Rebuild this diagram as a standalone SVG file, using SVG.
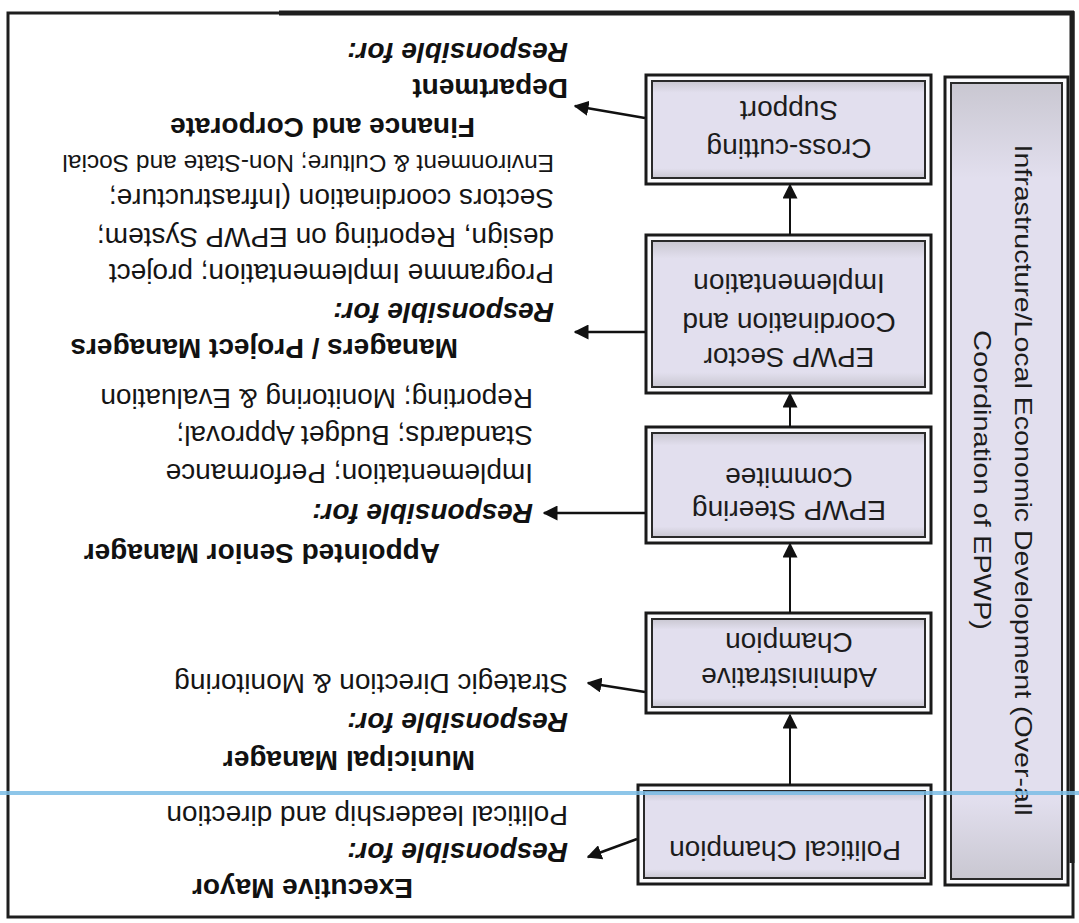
<svg xmlns="http://www.w3.org/2000/svg" width="1079" height="923" viewBox="0 0 1079 923">
<defs>
<style>
.frame{fill:none;stroke:#1e1e1e;stroke-width:3}
.outer{fill:#fbfbfd;stroke:#1a1a1a;stroke-width:3}
.inner{fill:url(#lav);stroke:#2a2a2a;stroke-width:2}
.bt{font-family:"Liberation Sans",Arial,sans-serif;font-size:28px;fill:#1c1c1c;text-anchor:middle}
.bar{font-family:"Liberation Sans",Arial,sans-serif;font-size:24px;fill:#1c1c1c;text-anchor:middle}
.d{font-family:"Liberation Sans",Arial,sans-serif;font-size:28px;fill:#151515}
.h{font-family:"Liberation Sans",Arial,sans-serif;font-size:28px;font-weight:bold;fill:#111}
.r{font-family:"Liberation Sans",Arial,sans-serif;font-size:28px;font-weight:bold;font-style:italic;fill:#111}
.c{stroke:#111;stroke-width:2;fill:none}
.s{stroke:#111;stroke-width:2.5;fill:none}
</style>
<linearGradient id="lav" x1="0" y1="0" x2="0" y2="1">
<stop offset="0" stop-color="#c9c7d1"/>
<stop offset="0.1" stop-color="#e2dfee"/>
<stop offset="0.88" stop-color="#e2dfee"/>
<stop offset="1" stop-color="#c9c7d1"/>
</linearGradient>
<marker id="ah" viewBox="0 0 10 10" refX="9" refY="5" markerWidth="15" markerHeight="15" markerUnits="userSpaceOnUse" orient="auto">
<path d="M0,0 L10,5 L0,10 z" fill="#111"/>
</marker>
</defs>
<rect width="1079" height="923" fill="#ffffff"/>
<g transform="rotate(180 539.5 461.5)">
<rect class="frame" x="6" y="6" width="1065" height="904"/>
<line x1="5" y1="910" x2="800" y2="910" stroke="#1e1e1e" stroke-width="5"/>
<line x1="7" y1="60" x2="7" y2="912" stroke="#1e1e1e" stroke-width="5"/>

<g id="bar">
<rect class="outer" x="11" y="38" width="123" height="808"/>
<rect class="inner" x="17" y="44" width="111" height="796"/>
<text class="bar" transform="translate(64,443) rotate(-90)" textLength="671" lengthAdjust="spacingAndGlyphs">Infrastructure/Local Economic Development (Over-all</text>
<text class="bar" transform="translate(105,443) rotate(-90)" textLength="300" lengthAdjust="spacingAndGlyphs">Coordination of EPWP)</text>
</g>

<g id="political-champion">
<rect class="outer" x="148" y="39" width="293" height="99"/>
<rect class="inner" x="154" y="45" width="281" height="87"/>
<text class="bt" x="294" y="82">Political Champion</text>
</g>

<g id="administrative-champion">
<rect class="outer" x="148" y="210" width="285" height="100"/>
<rect class="inner" x="154" y="216" width="273" height="88"/>
<text class="bt" x="290" y="255">Administrative</text>
<text class="bt" x="290" y="290">Champion</text>
</g>

<g id="steering-committee">
<rect class="outer" x="148" y="380" width="285" height="116"/>
<rect class="inner" x="154" y="386" width="273" height="104"/>
<text class="bt" x="290" y="422">EPWP Steering</text>
<text class="bt" x="290" y="455">Commitee</text>
</g>

<g id="sector-coordination">
<rect class="outer" x="148" y="530" width="285" height="158"/>
<rect class="inner" x="154" y="536" width="273" height="146"/>
<text class="bt" x="290" y="575">EPWP Sector</text>
<text class="bt" x="290" y="610">Coordination and</text>
<text class="bt" x="290" y="649">Implementation</text>
</g>

<g id="cross-cutting">
<rect class="outer" x="148" y="739" width="285" height="109"/>
<rect class="inner" x="154" y="745" width="273" height="97"/>
<text class="bt" x="290" y="784">Cross-cutting</text>
<text class="bt" x="290" y="822">Support</text>
</g>

<g id="executive-mayor">
<text class="h" x="666" y="44">Executive Mayor</text>
<text class="r" x="511" y="80">Responsible for:</text>
<text class="d" x="511" y="117">Political leadership and direction</text>
</g>

<g id="municipal-manager">
<text class="h" x="604" y="172">Municipal Manager</text>
<text class="r" x="511" y="210">Responsible for:</text>
<text class="d" x="511" y="249">Strategic Direction &amp; Monitoring</text>
</g>

<g id="appointed-senior-manager">
<text class="h" x="639" y="379">Appointed Senior Manager</text>
<text class="r" x="546" y="419">Responsible for:</text>
<text class="d" x="546" y="459">Implementation; Performance</text>
<text class="d" x="546" y="497">Standards; Budget Approval;</text>
<text class="d" x="546" y="534">Reporting; Monitoring &amp; Evaluation</text>
</g>

<g id="project-managers">
<text class="h" x="621" y="584">Managers / Project Managers</text>
<text class="r" x="525" y="620">Responsible for:</text>
<text class="d" x="525" y="659">Programme Implementation; project</text>
<text class="d" x="525" y="695">design, Reporting on EPWP System;</text>
<text class="d" x="525" y="734">Sectors coordination (Infrastructure;</text>
<text class="d" x="525" y="768" style="font-size:24.5px">Environment &amp; Culture; Non-State and Social</text>
</g>

<g id="finance-corporate">
<text class="h" x="604" y="805">Finance and Corporate</text>
<text class="h" x="511" y="844">Department</text>
<text class="r" x="511" y="880">Responsible for:</text>
</g>

<g id="connectors">
<line class="c" x1="289" y1="138" x2="289" y2="208" marker-end="url(#ah)"/>
<line class="c" x1="289" y1="310" x2="289" y2="379" marker-end="url(#ah)"/>
<line class="c" x1="289" y1="496" x2="289" y2="529" marker-end="url(#ah)"/>
<line class="c" x1="289" y1="688" x2="289" y2="738" marker-end="url(#ah)"/>
<line class="s" x1="442" y1="84" x2="491" y2="66" marker-end="url(#ah)"/>
<line class="s" x1="434" y1="231" x2="491" y2="240" marker-end="url(#ah)"/>
<line class="s" x1="434" y1="410" x2="535" y2="410" marker-end="url(#ah)"/>
<line class="s" x1="434" y1="591" x2="504" y2="591" marker-end="url(#ah)"/>
<line class="s" x1="434" y1="805" x2="504" y2="817" marker-end="url(#ah)"/>
</g>

<line x1="0" y1="130" x2="1079" y2="130" stroke="#7bbde6" stroke-width="4" opacity="0.85"/>
</g>
</svg>
